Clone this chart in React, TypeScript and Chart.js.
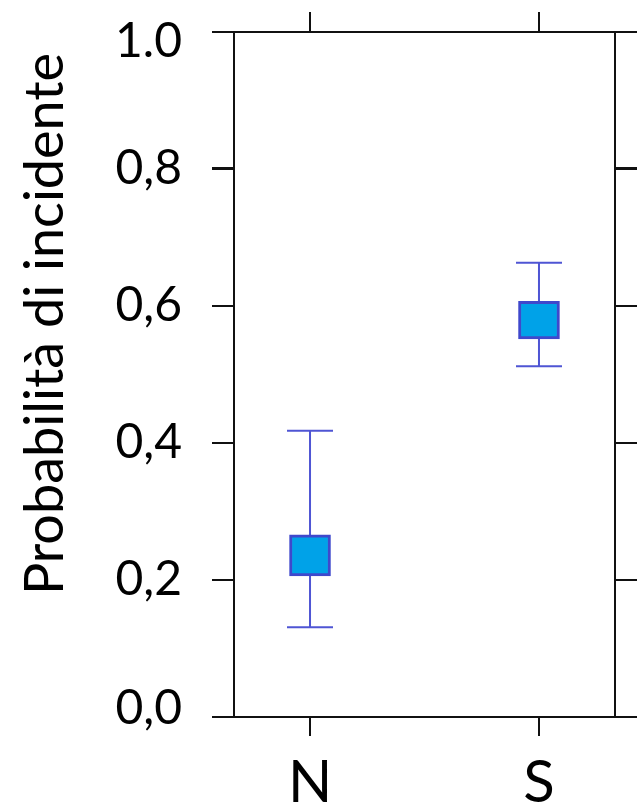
import React, { useEffect, useRef } from 'react';
import { Chart, registerables } from 'chart.js';

Chart.register(...registerables);

const categories = ['N', 'S'];
const categoryPositions = [0, 1];
const boxLow = [0.206, 0.552];
const boxHigh = [0.266, 0.607];
const whiskerLow = [0.131, 0.512];
const whiskerHigh = [0.418, 0.663];
const yTickValues = [0, 0.2, 0.4, 0.6, 0.8, 1.0];
const yTickLabels = ['0,0', '0,2', '0,4', '0,6', '0,8', '1.0'];
const yTitle = 'Probabilità di incidente';

const FONT = 'Lato';
const AXIS_COLOR = '#111111';
const BOX_FILL = '#00a2e8';
const BOX_BORDER = '#3f48cc';
const WHISKER_COLOR = '#4f55d4';

const whiskerPlugin = {
  id: 'whiskers',
  beforeDatasetsDraw(chart: any) {
    const { ctx, scales } = chart;
    const x = scales.x;
    const y = scales.y;
    ctx.save();
    ctx.strokeStyle = WHISKER_COLOR;
    ctx.lineWidth = 2;
    categoryPositions.forEach((pos, i) => {
      const px = x.getPixelForValue(pos);
      const top = y.getPixelForValue(whiskerHigh[i]);
      const bot = y.getPixelForValue(whiskerLow[i]);
      ctx.beginPath();
      ctx.moveTo(px, top);
      ctx.lineTo(px, bot);
      ctx.moveTo(px - 23, top);
      ctx.lineTo(px + 23, top);
      ctx.moveTo(px - 23, bot);
      ctx.lineTo(px + 23, bot);
      ctx.stroke();
    });
    ctx.restore();
  },
};

const titlePlugin = {
  id: 'yTitle',
  afterDraw(chart: any) {
    const { ctx } = chart;
    ctx.save();
    ctx.translate(63, 324);
    ctx.rotate(-Math.PI / 2);
    ctx.font = `54px ${FONT}`;
    ctx.fillStyle = '#000';
    ctx.textAlign = 'center';
    ctx.textBaseline = 'alphabetic';
    ctx.fillText(yTitle, 0, 0);
    ctx.restore();
  },
};

const fit = (w: number | null, h: number | null) => (s: any) => {
  if (w !== null) s.width = w;
  if (h !== null) s.height = h;
  s.paddingTop = 0;
  s.paddingBottom = 0;
  s.paddingLeft = 0;
  s.paddingRight = 0;
};

export default function App() {
  const ref = useRef<HTMLCanvasElement | null>(null);

  useEffect(() => {
    if (!ref.current) return;
    const setTicks = (values: number[]) => (scale: any) => {
      scale.ticks = values.map((v) => ({ value: v }));
    };
    const chart = new Chart(ref.current, {
      type: 'bar',
      data: {
        datasets: [
          {
            data: categoryPositions.map((p, i) => ({ x: p, y: [boxLow[i], boxHigh[i]] })) as any,
            backgroundColor: BOX_FILL,
            borderColor: BOX_BORDER,
            borderWidth: 3,
            borderSkipped: false,
            barThickness: 41,
          },
        ],
      },
      options: {
        animation: false,
        responsive: true,
        maintainAspectRatio: false,
        layout: { padding: 0 },
        plugins: { legend: { display: false }, tooltip: { enabled: false } },
        scales: {
          x: {
            type: 'linear',
            position: 'bottom',
            min: -0.332,
            max: 1.332,
            offset: false,
            afterBuildTicks: setTicks(categoryPositions),
            afterFit: fit(null, 92),
            grid: {
              offset: false,
              drawOnChartArea: false,
              drawTicks: true,
              tickLength: 19,
              color: AXIS_COLOR,
              lineWidth: 2,
            },
            border: { display: true, color: AXIS_COLOR, width: 2 },
            ticks: {
              padding: 12,
              color: '#000',
              font: { family: FONT, size: 58 },
              maxRotation: 0,
              callback: (v: any) => categories[categoryPositions.indexOf(Number(v))] ?? '',
            },
          },
          xTop: {
            type: 'linear',
            position: 'top',
            min: -0.332,
            max: 1.332,
            offset: false,
            afterBuildTicks: setTicks(categoryPositions),
            afterFit: fit(null, 32),
            grid: {
              offset: false,
              drawOnChartArea: false,
              drawTicks: true,
              tickLength: 20,
              color: AXIS_COLOR,
              lineWidth: 2,
            },
            border: { display: true, color: AXIS_COLOR, width: 2 },
            ticks: { display: false },
          },
          y: {
            type: 'linear',
            position: 'left',
            min: 0,
            max: 1,
            afterBuildTicks: setTicks(yTickValues),
            afterFit: fit(234, null),
            grid: {
              drawOnChartArea: false,
              drawTicks: true,
              tickLength: 22,
              color: AXIS_COLOR,
              lineWidth: (c: any) => (c.tick && c.tick.value === 0.8 ? 3 : 2),
            },
            border: { display: true, color: AXIS_COLOR, width: 2 },
            ticks: {
              padding: 30,
              color: '#000',
              font: (c: any) => ({
                family: FONT,
                size: 48,
                lineHeight: c.index === yTickValues.length - 1 ? '20px' : c.index === 0 ? '16px' : 1.2,
              }),
              callback: (_v: any, index: number) => {
                const label = yTickLabels[index];
                if (index === yTickValues.length - 1) return ['', label];
                if (index === 0) return [label, ''];
                return label;
              },
            },
          },
          yRight: {
            type: 'linear',
            position: 'right',
            min: 0,
            max: 1,
            afterBuildTicks: setTicks(yTickValues),
            afterFit: fit(22, null),
            grid: {
              drawOnChartArea: false,
              drawTicks: true,
              tickLength: 22,
              color: AXIS_COLOR,
              lineWidth: (c: any) => (c.tick && c.tick.value === 0.8 ? 3 : 2),
            },
            border: { display: true, color: AXIS_COLOR, width: 2 },
            ticks: { display: false },
          },
        },
      } as any,
      plugins: [whiskerPlugin, titlePlugin],
    });
    return () => chart.destroy();
  }, []);

  return (
    <div style={{ position: 'fixed', left: 0, top: 0, width: 637, height: 809, background: '#fff' }}>
      <canvas ref={ref} />
    </div>
  );
}
